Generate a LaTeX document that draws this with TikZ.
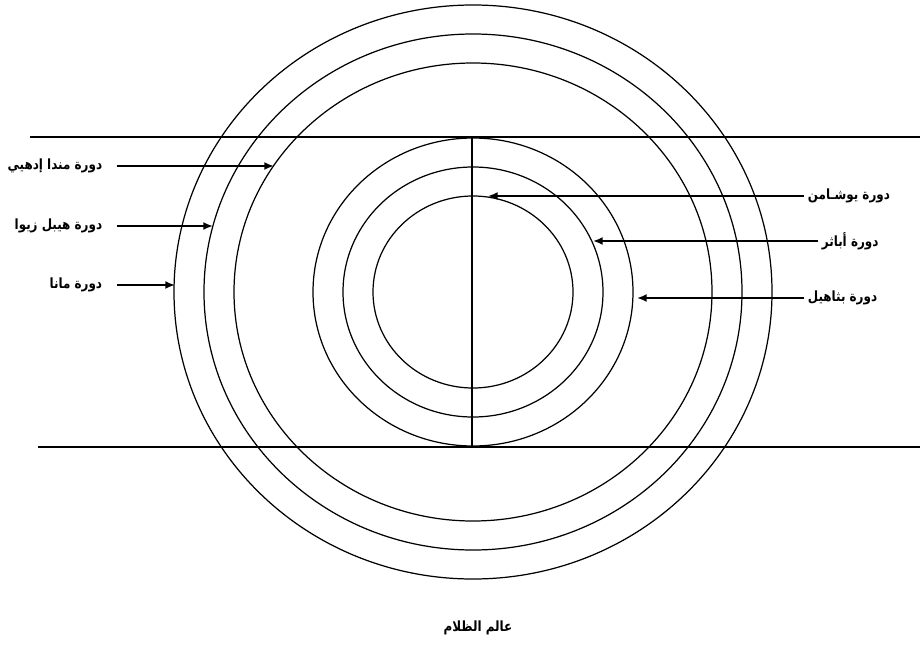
\documentclass[tikz,border=0pt]{standalone}
\usepackage{fontspec}
\usepackage{tikz}
\usetikzlibrary{arrows.meta, positioning}
\TeXXeTstate=1
\newfontfamily\arabicfont[Script=Arabic, FakeStretch=0.85]{DejaVu Sans}

\begin{document}
\begin{tikzpicture}[
  x=0.02cm, y=-0.02cm,
  ring/.style={line width=0.7pt},
  rule/.style={line width=0.7pt},
  label/.style={font=\arabicfont\bfseries\fontsize{8}{10}\selectfont, inner sep=2pt},
  arrow/.style={-{Latex[length=5.5pt, width=4.5pt]}, line width=1pt},
  farrow/.style={arrow, shorten <=0.22cm}
]
  \useasboundingbox (0,0) rectangle (920,646);

  % centre of the rings
  \coordinate (c) at (473,292);

  % outer rings
  \foreach \rx/\ry in {299/287, 269/258, 239/229}
    \draw[ring] (c) ellipse [x radius=\rx, y radius=\ry];
  % inner rings
  \foreach \rx/\ry in {160/154, 130/125, 100/96}
    \draw[ring] (c) ellipse [x radius=\rx, y radius=\ry];

  % horizontal bands and the divider
  \coordinate (topl) at (30,137);
  \coordinate (topr) at (920,137);
  \coordinate (botl) at (38,447);
  \coordinate (botr) at (920,447);
  \coordinate (divt) at (472,137);
  \coordinate (divb) at (472,447);
  \draw[rule] (topl) -- (topr);
  \draw[rule] (botl) -- (botr);
  \draw[rule] (divt) -- (divb);

  % left labels
  \node[label, anchor=east] (manda) at (106,166) {\beginR دورة مندا إدهيي\endR};
  \node[label, anchor=east] (hibil) at (106,226) {\beginR دورة هيبل زيوا\endR};
  \node[label, anchor=east] (mana)  at (106,285) {\beginR دورة مانا\endR};

  % right labels
  \node[label, anchor=west] (yushamin) at (804,196) {\beginR دورة يوشـامن\endR};
  \node[label, anchor=west] (abathur)  at (818,241) {\beginR دورة أباثر\endR};
  \node[label, anchor=west] (ptahil)   at (804,298) {\beginR دورة بثاهيل\endR};

  % arrow tips on the rings
  \coordinate (mandatip)    at (274,166);
  \coordinate (hibiltip)    at (213,226);
  \coordinate (manatip)     at (175,285);
  \coordinate (yushamintip) at (488,196);
  \coordinate (abathurtip)  at (593,241);
  \coordinate (ptahiltip)   at (637,298);

  \draw[farrow] (manda.east) -- (mandatip);
  \draw[farrow] (hibil.east) -- (hibiltip);
  \draw[farrow] (mana.east) -- (manatip);
  \draw[arrow] (yushamin.west) -- (yushamintip);
  \draw[arrow] (abathur.west) -- (abathurtip);
  \draw[arrow] (ptahil.west) -- (ptahiltip);

  % bottom caption
  \node[label] (darkness) at (478,628) {\beginR عالم الظلام\endR};
\end{tikzpicture}
\end{document}
